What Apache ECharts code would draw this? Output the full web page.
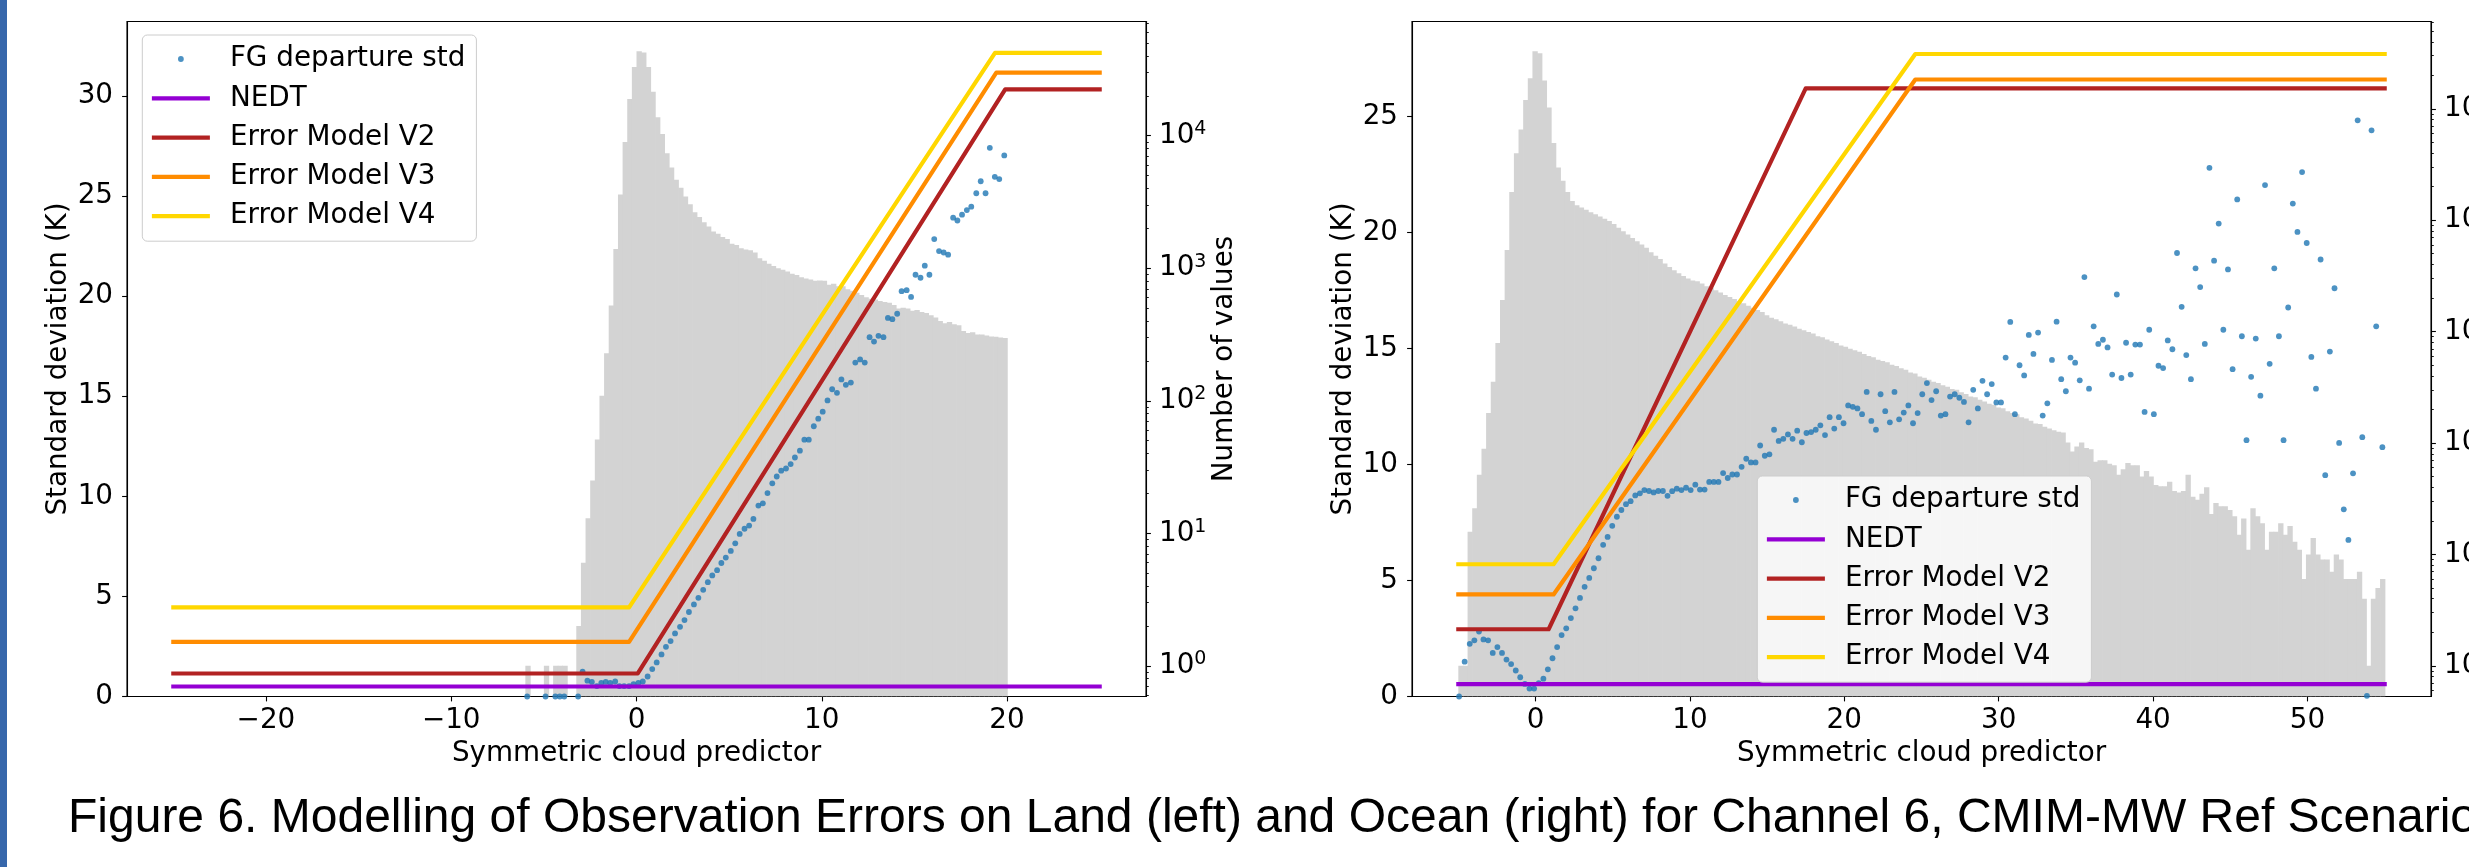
<!DOCTYPE html>
<html>
<head>
<meta charset="utf-8">
<title>Figure 6</title>
<script src="https://cdn.jsdelivr.net/npm/echarts@6/dist/echarts.min.js"></script>
<style>
  html, body { margin: 0; padding: 0; background: #fff; }
  #chart { width: 2469px; height: 867px; }
</style>
</head>
<body>
<div id="chart"></div>
<script>
// ---- land (left panel) ----
const landHistStart = -6;
const landHistWidth = 0.25;
const landCounts = [1, 0, 0, 0, 1, 0, 1, 1, 1, 0, 0,
  2, 6, 13, 25, 51, 109, 228, 524, 1395, 3600,
  8950, 18900, 33000, 43400, 42400, 33000, 21500, 13800, 10300, 7380,
  5750, 4650, 4050, 3470, 3040, 2640, 2440, 2220, 2060, 1890,
  1820, 1720, 1660, 1530, 1500, 1415, 1385, 1365, 1313, 1187,
  1140, 1080, 1040, 1000, 975, 946, 910, 889, 855, 836,
  823, 803, 809, 803, 750, 762, 732, 732, 694, 677,
  652, 627, 603, 589, 580, 566, 557, 549, 528, 496,
  504, 496, 477, 484, 467, 459, 442, 425, 399, 384,
  393, 378, 372, 336, 324, 329, 316, 316, 311, 306,
  304, 300, 298];

const landX = [-5.9, -4.91, -4.38, -4.14, -3.9, -3.15, -2.91, -2.65, -2.41, -2.14,
  -1.9, -1.66, -1.42, -1.15, -0.92, -0.67, -0.4, -0.16, 0.1, 0.34,
  0.6, 0.85, 1.09, 1.35, 1.59, 1.84, 2.08, 2.35, 2.59, 2.83,
  3.1, 3.34, 3.6, 3.85, 4.09, 4.35, 4.58, 4.82, 5.09, 5.33,
  5.57, 5.83, 6.08, 6.31, 6.58, 6.82, 7.07, 7.33, 7.57, 7.81,
  8.07, 8.32, 8.55, 8.82, 9.06, 9.3, 9.57, 9.81, 10.05, 10.31,
  10.56, 10.82, 11.06, 11.3, 11.57, 11.81, 12.07, 12.32, 12.58, 12.82,
  13.06, 13.33, 13.57, 13.81, 14.07, 14.31, 14.58, 14.82, 15.06, 15.33,
  15.56, 15.81, 16.07, 16.33, 16.58, 16.82, 17.09, 17.32, 17.57, 17.83,
  18.07, 18.34, 18.58, 18.84, 19.07, 19.34, 19.58, 19.85];
const landStd = [0, 0, 0, 0, 0, 0, 1.24, 0.79, 0.73, 0.52,
  0.68, 0.73, 0.68, 0.75, 0.52, 0.52, 0.52, 0.62, 0.68, 0.75,
  1.0, 1.37, 1.7, 2.1, 2.48, 2.77, 3.15, 3.48, 3.82, 4.22,
  4.6, 4.93, 5.33, 5.71, 6.05, 6.31, 6.67, 6.94, 7.27, 7.65,
  8.12, 8.38, 8.54, 8.87, 9.54, 9.65, 10.16, 10.65, 10.99, 11.28,
  11.39, 11.61, 11.94, 12.28, 12.83, 12.83, 13.5, 13.88, 14.23, 14.79,
  15.35, 15.17, 15.84, 15.57, 15.68, 16.68, 16.84, 16.68, 17.95, 17.73,
  18.02, 17.95, 18.91, 18.85, 19.12, 20.25, 20.3, 19.96, 21.07, 20.92,
  21.52, 21.07, 22.85, 22.25, 22.18, 22.07, 23.92, 23.78, 24.07, 24.3,
  24.47, 25.14, 25.74, 25.14, 27.41, 25.96, 25.85, 27.03];

const landNedt = [[-25, 0.5], [25, 0.5]];
const landV2 = [[-25, 1.15], [0.07, 1.15], [19.9, 30.33], [25, 30.33]];
const landV3 = [[-25, 2.73], [-0.4, 2.73], [19.42, 31.17], [25, 31.17]];
const landV4 = [[-25, 4.45], [-0.4, 4.45], [19.35, 32.15], [25, 32.15]];

// ---- ocean (right panel) ----
const oceanHistStart = -5;
const oceanHistWidth = 0.3;
const oceanCounts = [1, 1, 16, 26, 52, 89, 186, 355, 792, 1920,
  5400, 17900, 40000, 65200, 120000, 188000, 328000, 315000, 180000, 103000,
  49400, 29800, 22600, 17900, 14900, 13600, 13000, 12400, 11800, 11300,
  10800, 10300, 9840, 9230, 8570, 7960, 7460, 6940, 6490, 6040,
  5650, 5160, 4790, 4490, 4090, 3800, 3560, 3340, 3160, 2990,
  2880, 2830, 2700, 2560, 2480, 2350, 2250, 2130, 2040, 1960,
  1870, 1800, 1710, 1640, 1560, 1500, 1400, 1330, 1290, 1240,
  1180, 1150, 1110, 1060, 1030, 990, 960, 910, 890, 850,
  820, 790, 750, 730, 700, 680, 660, 630, 605, 590,
  560, 545, 530, 505, 490, 470, 455, 430, 420, 395,
  385, 370, 355, 345, 330, 320, 305, 300, 285, 275,
  262, 258, 245, 236, 225, 220, 208, 205, 193, 186,
  181, 170, 166, 158, 150, 148, 140, 135, 130, 126,
  124, 101, 84, 93, 101, 90, 88, 68, 70, 70,
  65, 63, 52, 58, 66, 63, 63, 50, 56, 50,
  42, 41, 41, 45, 37, 36, 37, 52, 33, 31,
  35, 40, 23, 29, 27, 27, 25, 22, 15, 21,
  11, 26, 22, 19, 11, 16, 16, 19, 15, 18,
  13, 11, 6, 10, 14, 10, 9, 9, 7, 10,
  9, 6, 6, 6, 7, 4, 1, 4, 5, 6];

const oceanX = [-4.95, -4.59, -4.26, -3.96, -3.66, -3.37, -3.07, -2.77, -2.47, -2.17,
  -1.88, -1.58, -1.28, -0.99, -0.69, -0.39, -0.09, 0.21, 0.51, 0.8,
  1.1, 1.4, 1.69, 1.99, 2.29, 2.59, 2.88, 3.18, 3.48, 3.78,
  4.08, 4.38, 4.67, 4.97, 5.27, 5.56, 5.86, 6.16, 6.46, 6.76,
  7.05, 7.35, 7.65, 7.95, 8.25, 8.55, 8.85, 9.15, 9.45, 9.75,
  10.05, 10.35, 10.65, 10.95, 11.25, 11.55, 11.85, 12.15, 12.45, 12.75,
  13.05, 13.35, 13.65, 13.95, 14.25, 14.55, 14.85, 15.15, 15.45, 15.75,
  16.05, 16.35, 16.65, 16.95, 17.25, 17.55, 17.85, 18.15, 18.45, 18.75,
  19.05, 19.35, 19.65, 19.95, 20.25, 20.55, 20.85, 21.15, 21.45, 21.75,
  22.05, 22.35, 22.65, 22.95, 23.25, 23.55, 23.85, 24.15, 24.45, 24.75,
  25.05, 25.35, 25.65, 25.95, 26.25, 26.55, 26.85, 27.15, 27.45, 27.75,
  28.05, 28.35, 28.65, 28.95, 29.25, 29.55, 29.85, 30.15, 30.45, 30.75,
  31.05, 31.35, 31.65, 31.95, 32.25, 32.55, 32.85, 33.15, 33.45, 33.75,
  34.05, 34.35, 34.65, 34.95, 35.25, 35.55, 35.85, 36.15, 36.45, 36.75,
  37.05, 37.35, 37.65, 37.95, 38.25, 38.55, 38.85, 39.15, 39.45, 39.75,
  40.05, 40.35, 40.65, 40.95, 41.25, 41.55, 41.85, 42.15, 42.45, 42.75,
  43.05, 43.35, 43.65, 43.95, 44.25, 44.55, 44.85, 45.15, 45.45, 45.75,
  46.05, 46.35, 46.65, 46.95, 47.25, 47.55, 47.85, 48.15, 48.45, 48.75,
  49.05, 49.35, 49.65, 49.95, 50.25, 50.55, 50.85, 51.15, 51.45, 51.75,
  52.05, 52.35, 52.65, 52.95, 53.25, 53.55, 53.85, 54.15, 54.45, 54.85];
const oceanStd = [0.0, 1.5, 2.27, 2.42, 2.8, 2.46, 2.42, 1.88, 2.13, 1.88,
  1.59, 1.4, 1.12, 0.83, 0.54, 0.34, 0.34, 0.58, 0.77, 1.17,
  1.65, 2.13, 2.65, 2.94, 3.38, 3.8, 4.25, 4.73, 5.11, 5.53,
  5.96, 6.54, 6.88, 7.36, 7.75, 8.04, 8.29, 8.42, 8.67, 8.76,
  8.9, 8.86, 8.8, 8.86, 8.86, 8.65, 8.85, 8.96, 8.9, 9.0,
  8.9, 9.13, 8.92, 8.92, 9.25, 9.25, 9.25, 9.63, 9.42, 9.57,
  9.57, 9.9, 10.25, 10.09, 10.09, 10.82, 10.38, 10.44, 11.5, 11.02,
  11.11, 11.3, 11.11, 11.46, 10.96, 11.36, 11.4, 11.5, 11.69, 11.27,
  12.04, 11.55, 12.04, 11.78, 12.55, 12.49, 12.42, 12.17, 13.13, 11.88,
  11.5, 13.03, 12.3, 11.82, 13.13, 11.95, 12.24, 12.55, 11.78, 12.22,
  13.03, 13.51, 12.78, 13.16, 12.11, 12.17, 12.93, 13.03, 12.88, 12.7,
  11.82, 13.22, 12.42, 13.61, 13.03, 13.47, 12.68, 12.68, 14.61, 16.15,
  12.17, 14.28, 13.84, 15.59, 14.77, 15.69, 12.11, 12.64, 14.51, 16.16,
  13.68, 13.16, 14.61, 14.39, 13.63, 18.08, 13.27, 15.96, 15.2, 15.38,
  15.05, 13.88, 17.33, 13.73, 15.25, 13.88, 15.17, 15.17, 12.27, 15.81,
  12.17, 14.26, 14.16, 15.35, 14.97, 19.12, 16.8, 14.72, 13.68, 18.46,
  17.65, 15.2, 22.79, 18.79, 20.39, 15.81, 18.41, 14.11, 21.43, 15.53,
  11.05, 13.78, 15.43, 12.97, 22.05, 14.34, 18.46, 15.53, 11.05, 16.77,
  21.25, 20.03, 22.61, 19.55, 14.64, 13.27, 18.84, 9.54, 14.87, 17.6,
  10.93, 8.07, 6.75, 9.62, 24.84, 11.18, 0.03, 24.41, 15.96, 10.75];

const oceanNedt = [[-5, 0.53], [55, 0.53]];
const oceanV2 = [[-5, 2.9], [0.85, 2.9], [17.5, 26.22], [55, 26.22]];
const oceanV3 = [[-5, 4.4], [1.17, 4.4], [24.6, 26.6], [55, 26.6]];
const oceanV4 = [[-5, 5.7], [1.17, 5.7], [24.6, 27.7], [55, 27.7]];

const landXTicks = [-20, -10, 0, 10, 20];
const oceanXTicks = [0, 10, 20, 30, 40, 50];
const landYTicks = [0, 5, 10, 15, 20, 25, 30];
const oceanYTicks = [0, 5, 10, 15, 20, 25];
const landLogTicks = [1, 10, 100, 1000, 10000];
const oceanLogTicks = [1, 10, 100, 1000, 10000, 100000];

const caption = 'Figure 6. Modelling of Observation Errors on Land (left) and Ocean (right) for Channel 6, CMIM-MW Ref Scenario';

const FONT = 'DejaVu Sans';
const FS = 27.8;
const BLACK = '#000';
const LW = 4.17;
const names = ['FG departure std', 'NEDT', 'Error Model V2', 'Error Model V3', 'Error Model V4'];
const colors = ['#1f77b4', '#9400d3', '#b22222', '#ff8c00', '#ffd700'];

function fmtNum(v) {
  return v < 0 ? '\u2212' + Math.abs(v) : String(v);
}

function minorTicks(maxExp) {
  const out = [];
  for (let e = -1; e <= maxExp; e++) {
    for (let m = 2; m <= 9; m++) out.push(m * Math.pow(10, e));
  }
  return out;
}

const tickLine = { color: BLACK, width: 1.1 };
const txt = { fontSize: FS, fontFamily: FONT, color: BLACK };

function xAxisOf(gridIndex, min, max, ticks) {
  return {
    type: 'value', gridIndex: gridIndex, min: min, max: max,
    axisLine: { show: true, onZero: false, lineStyle: tickLine },
    axisTick: { show: true, length: 4.9, lineStyle: tickLine, customValues: ticks },
    axisLabel: Object.assign({ customValues: ticks, margin: 10.5, formatter: fmtNum }, txt),
    splitLine: { show: false },
    name: 'Symmetric cloud predictor', nameLocation: 'middle', nameGap: 41,
    nameTextStyle: txt
  };
}

function linYAxis(gridIndex, max, ticks) {
  return {
    type: 'value', gridIndex: gridIndex, position: 'left', min: 0, max: max,
    axisLine: { show: true, onZero: false, lineStyle: tickLine },
    axisTick: { show: true, length: 4.9, lineStyle: tickLine, customValues: ticks },
    axisLabel: Object.assign({ customValues: ticks, margin: 14 }, txt),
    splitLine: { show: false },
    name: 'Standard deviation (K)', nameLocation: 'middle', nameGap: 54, nameRotate: 90,
    nameTextStyle: txt
  };
}

function logYAxis(gridIndex, min, max, ticks) {
  return {
    type: 'log', logBase: 10, gridIndex: gridIndex, position: 'right', min: min, max: max,
    axisLine: { show: true, onZero: false, lineStyle: tickLine },
    axisTick: { show: true, length: 4.9, lineStyle: tickLine, customValues: ticks },
    axisLabel: {
      customValues: ticks, margin: 13,
      formatter: function (v) { return '{b|10}{s|' + Math.round(Math.log10(v)) + '}'; },
      rich: {
        b: { fontSize: FS, fontFamily: FONT, color: BLACK, lineHeight: 32 },
        s: { fontSize: 19, fontFamily: FONT, color: BLACK, lineHeight: 15, verticalAlign: 'top' }
      }
    },
    splitLine: { show: false },
    name: 'Number of values', nameLocation: 'middle', nameGap: 60, nameRotate: 90,
    nameTextStyle: txt
  };
}

function minorLogAxis(gridIndex, min, max, maxExp) {
  return {
    type: 'log', logBase: 10, gridIndex: gridIndex, position: 'right', min: min, max: max,
    axisLine: { show: false, onZero: false },
    axisTick: { show: true, length: 2.8, lineStyle: { color: BLACK, width: 0.9 }, customValues: minorTicks(maxExp) },
    axisLabel: { show: false },
    splitLine: { show: false }
  };
}

function histSeries(name, xi, yi, start, width, counts, floor) {
  const data = [];
  counts.forEach(function (c, i) {
    if (c > 0) data.push([start + i * width, c]);
  });
  return {
    name: name, type: 'custom', xAxisIndex: xi, yAxisIndex: yi, z: 1, silent: true, clip: true,
    encode: { x: 0, y: 1 },
    data: data,
    renderItem: function (params, api) {
      const x0 = api.value(0);
      const top = api.coord([x0, api.value(1)]);
      const bot = api.coord([x0 + width, floor]);
      return {
        type: 'rect',
        shape: { x: top[0], y: top[1], width: bot[0] - top[0] + 0.7, height: bot[1] - top[1] },
        style: { fill: '#d3d3d3' }
      };
    }
  };
}

function zip(xs, ys) {
  return xs.map(function (x, i) { return [x, ys[i]]; });
}

function panelSeries(xi, yi, xs, ys, lines) {
  const out = [{
    name: names[0], type: 'scatter', xAxisIndex: xi, yAxisIndex: yi, z: 2,
    symbol: 'circle', symbolSize: 5.8, data: zip(xs, ys),
    itemStyle: { color: colors[0] }
  }];
  lines.forEach(function (pts, k) {
    out.push({
      name: names[k + 1], type: 'line', xAxisIndex: xi, yAxisIndex: yi, z: 3,
      symbol: 'none', data: pts,
      lineStyle: { width: LW, color: colors[k + 1], cap: 'square', join: 'round' },
      itemStyle: { color: colors[k + 1] }
    });
  });
  return out;
}

function legendAt(left, top) {
  const lineItems = names.slice(1).map(function (n) {
    return { name: n, itemStyle: { opacity: 0 } };
  });
  return {
    orient: 'vertical', left: left, top: top,
    padding: [8, 11, 9, 7.5],
    itemWidth: 58, itemHeight: 5.8, itemGap: 7.3,
    backgroundColor: 'rgba(255,255,255,0.8)',
    borderColor: '#cccccc', borderWidth: 1, borderRadius: 5,
    lineStyle: { width: LW, cap: 'butt' },
    textStyle: { fontSize: FS, fontFamily: FONT, color: BLACK, lineHeight: 32, padding: [0, 0, 0, 15] },
    data: [{ name: names[0], icon: 'circle' }].concat(lineItems),
    selectedMode: false
  };
}

const landLogMin = 0.587, landLogMax = 72700;
const oceanLogMin = 0.53, oceanLogMax = 608000;

const gridBase = { top: 21.5, width: 1019, height: 675, show: true, borderColor: BLACK, borderWidth: 1.1,
  backgroundColor: 'transparent', containLabel: false, outerBoundsMode: 'none' };

const chart = echarts.init(document.getElementById('chart'), null, { renderer: 'canvas' });
chart.setOption({
  animation: false,
  backgroundColor: '#fff',
  grid: [
    Object.assign({ left: 127 }, gridBase),
    Object.assign({ left: 1412 }, gridBase)
  ],
  xAxis: [
    xAxisOf(0, -27.5, 27.5, landXTicks),
    xAxisOf(1, -8, 58, oceanXTicks)
  ],
  yAxis: [
    linYAxis(0, 33.72, landYTicks),
    logYAxis(0, landLogMin, landLogMax, landLogTicks),
    minorLogAxis(0, landLogMin, landLogMax, 4),
    linYAxis(1, 29.1, oceanYTicks),
    logYAxis(1, oceanLogMin, oceanLogMax, oceanLogTicks),
    minorLogAxis(1, oceanLogMin, oceanLogMax, 5)
  ],
  legend: [legendAt(142.3, 35), legendAt(1757.3, 476)],
  series: [].concat(
    [histSeries('landHist', 0, 1, landHistStart, landHistWidth, landCounts, landLogMin)],
    panelSeries(0, 0, landX, landStd, [landNedt, landV2, landV3, landV4]),
    [histSeries('oceanHist', 1, 4, oceanHistStart, oceanHistWidth, oceanCounts, oceanLogMin)],
    panelSeries(1, 3, oceanX, oceanStd, [oceanNedt, oceanV2, oceanV3, oceanV4])
  ),
  graphic: [
    { type: 'rect', left: 0, top: 0, shape: { width: 7, height: 867 }, style: { fill: '#3767ab' }, z: 10 },
    { type: 'text', x: 68, y: 819, z: 10,
      style: { text: caption, fontSize: 48, fontFamily: 'Liberation Sans', fill: BLACK, verticalAlign: 'middle', align: 'left' } }
  ]
});
</script>
</body>
</html>
